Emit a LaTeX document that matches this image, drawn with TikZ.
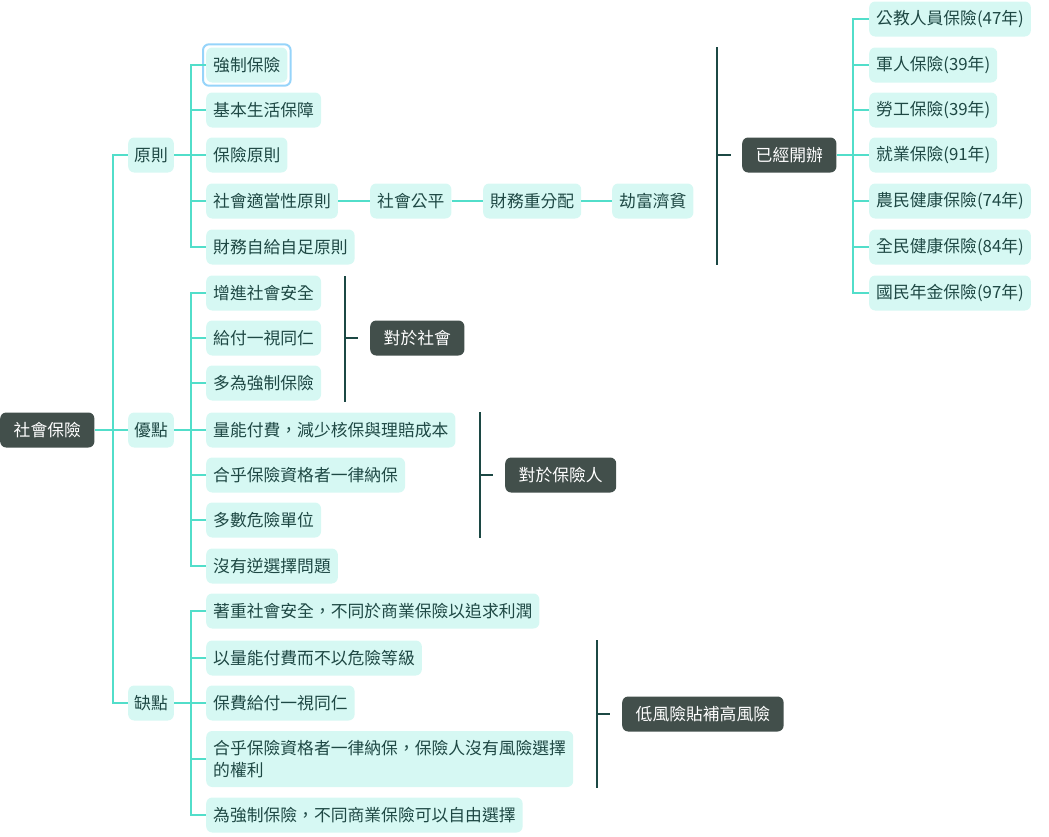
\documentclass[tikz,border=0pt]{standalone}
\usepackage{fontspec}
\setmainfont{Noto Sans CJK TC}
\usetikzlibrary{positioning}
\definecolor{boxfill}{RGB}{214,248,243}
\definecolor{txt}{RGB}{30,72,68}
\definecolor{darkfill}{RGB}{66,79,75}
\definecolor{linec}{RGB}{82,222,202}
\definecolor{bracec}{RGB}{28,72,68}
\definecolor{selblue}{RGB}{150,212,250}

\begin{document}
\begin{tikzpicture}[
    x=1pt, y=-1pt,
    topic/.style={rounded corners=6pt, fill=boxfill, text=txt, font=\fontsize{16.8}{22}\selectfont, inner xsep=7pt, inner ysep=0pt, minimum height=35pt, anchor=west},
    dark/.style={rounded corners=6pt, fill=darkfill, text=white, font=\fontsize{16.8}{22}\selectfont, inner xsep=13.5pt, inner ysep=0pt, minimum height=35pt, anchor=west},
    conn/.style={draw=linec, line width=1.3pt},
    brace/.style={draw=bracec, line width=2.5pt},
    selbox/.style={draw=selblue, line width=2pt, rounded corners=6pt}
]
\useasboundingbox (0,0) rectangle (1049,836);

% root
\node[dark] (root) at (0,430) {社會保險};

% first level
\node[topic, inner xsep=6pt] (yz) at (128,155) {原則};
\node[topic, inner xsep=6pt] (yd) at (128,430) {優點};
\node[topic, inner xsep=6pt] (qd) at (128,703) {缺點};

\coordinate (rj) at (113,430);
\draw[conn] (root) -- (rj);
\foreach \n in {yz,yd,qd} \draw[conn] (rj) |- (\n.west);

% 原則
\node[topic] (yz1) at (206,65) {強制保險};
\node[topic] (yz2) at (206,110) {基本生活保障};
\node[topic] (yz3) at (206,155) {保險原則};
\node[topic] (yz4) at (206,201) {社會適當性原則};
\node[topic] (yz5) at (206,247) {財務自給自足原則};
\draw[selbox] ([xshift=-3pt,yshift=3pt]yz1.north west) rectangle ([xshift=3pt,yshift=-3pt]yz1.south east);

\coordinate (yzj) at (191,155);
\draw[conn] (yz) -- (yzj);
\foreach \n in {yz1,yz2,yz3,yz4,yz5} \draw[conn] (yzj) |- (\n.west);

\node[topic] (gp) at (370,201) {社會公平};
\node[topic] (cw) at (483,201) {財務重分配};
\node[topic] (jf) at (612,201) {劫富濟貧};
\draw[conn] (yz4) -- (gp);
\draw[conn] (gp) -- (cw);
\draw[conn] (cw) -- (jf);

% summary 已經開辦
\coordinate (s1a) at (717,47);
\coordinate (s1b) at (717,265);
\coordinate (s1c) at (717,155);
\node[dark] (kb) at (742,155) {已經開辦};
\draw[brace] (s1a) -- (s1b);
\draw[brace] (s1c) -- ([xshift=-11pt]kb.west);

\node[topic] (kb1) at (869,19) {公教人員保險(47年)};
\node[topic] (kb2) at (869,65) {軍人保險(39年)};
\node[topic] (kb3) at (869,110) {勞工保險(39年)};
\node[topic] (kb4) at (869,155) {就業保險(91年)};
\node[topic] (kb5) at (869,201) {農民健康保險(74年)};
\node[topic] (kb6) at (869,247) {全民健康保險(84年)};
\node[topic] (kb7) at (869,293) {國民年金保險(97年)};

\coordinate (kbj) at (853,155);
\draw[conn] (kb) -- (kbj);
\foreach \n in {kb1,kb2,kb3,kb4,kb5,kb6,kb7} \draw[conn] (kbj) |- (\n.west);

% 優點
\node[topic] (yd1) at (206,293) {增進社會安全};
\node[topic] (yd2) at (206,338) {給付一視同仁};
\node[topic] (yd3) at (206,383) {多為強制保險};
\node[topic] (yd4) at (206,430) {量能付費，減少核保與理賠成本};
\node[topic] (yd5) at (206,475) {合乎保險資格者一律納保};
\node[topic] (yd6) at (206,520) {多數危險單位};
\node[topic] (yd7) at (206,566) {沒有逆選擇問題};

\coordinate (ydj) at (191,430);
\draw[conn] (yd) -- (ydj);
\foreach \n in {yd1,yd2,yd3,yd4,yd5,yd6,yd7} \draw[conn] (ydj) |- (\n.west);

% summary 對於社會
\node[dark] (dsh) at (370,338) {對於社會};
\coordinate (s2a) at (345,276);
\coordinate (s2b) at (345,402);
\coordinate (s2c) at (345,338);
\draw[brace] (s2a) -- (s2b);
\draw[brace] (s2c) -- ([xshift=-12pt]dsh.west);

% summary 對於保險人
\node[dark] (dbx) at (505,475) {對於保險人};
\coordinate (s3a) at (480,412);
\coordinate (s3b) at (480,538);
\coordinate (s3c) at (480,475);
\draw[brace] (s3a) -- (s3b);
\draw[brace] (s3c) -- ([xshift=-12pt]dbx.west);

% 缺點
\node[topic] (qd1) at (206,611) {著重社會安全，不同於商業保險以追求利潤};
\node[topic] (qd2) at (206,658) {以量能付費而不以危險等級};
\node[topic] (qd3) at (206,703) {保費給付一視同仁};
\node[topic, text width=353pt, align=left, minimum height=56pt] (qd4) at (206,759) {合乎保險資格者一律納保，保險人沒有風險選擇\\的權利};
\node[topic] (qd5) at (206,815) {為強制保險，不同商業保險可以自由選擇};

\coordinate (qdj) at (191,703);
\draw[conn] (qd) -- (qdj);
\foreach \n in {qd1,qd2,qd3,qd4,qd5} \draw[conn] (qdj) |- (\n.west);

% summary 低風險貼補高風險
\node[dark] (dfx) at (622,714) {低風險貼補高風險};
\coordinate (s4a) at (597,640);
\coordinate (s4b) at (597,788);
\coordinate (s4c) at (597,714);
\draw[brace] (s4a) -- (s4b);
\draw[brace] (s4c) -- ([xshift=-12pt]dfx.west);

\end{tikzpicture}
\end{document}
